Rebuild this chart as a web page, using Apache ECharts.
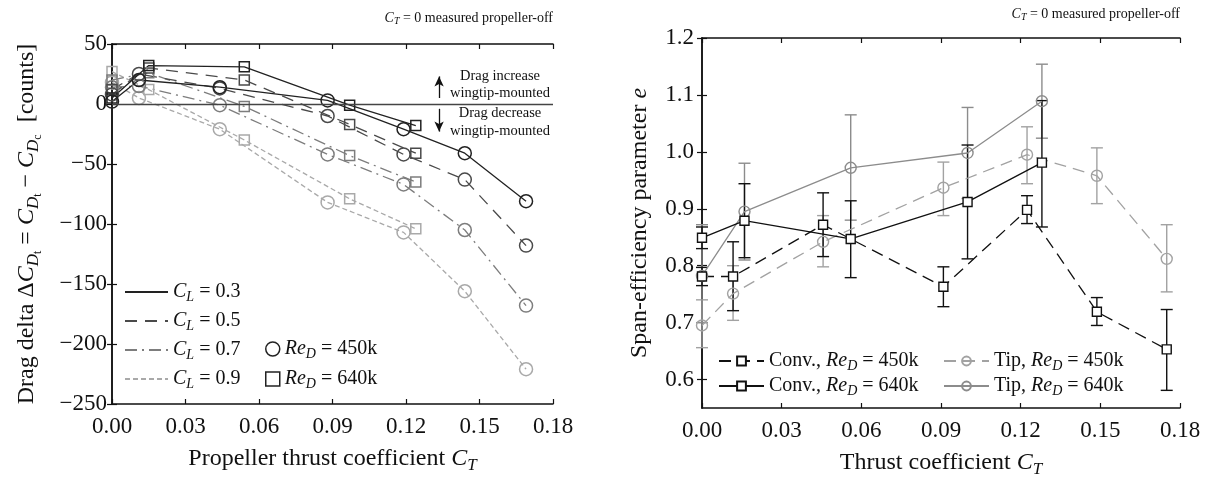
<!DOCTYPE html>
<html>
<head>
<meta charset="utf-8">
<script src="https://cdn.jsdelivr.net/npm/echarts@6.0.0/dist/echarts.min.js"></script>
<style>
  html, body { margin: 0; padding: 0; background: #fff; }
  #main { width: 1230px; height: 477px; }
</style>
</head>
<body>
<div id="main"></div>
<script>
// ---- left panel: drag delta [counts] vs C_T ----
var ctCircL = [0, 0.011, 0.044, 0.088, 0.119, 0.144, 0.169];   // Re_D = 450k
var ctSqL = [0, 0.015, 0.054, 0.097, 0.124];                    // Re_D = 640k
var cl03Circ = [2, 20, 14, 3, -21, -41, -81];
var cl03Sq = [5, 32, 31, -1, -18];
var cl05Circ = [8, 25, 13, -10, -42, -63, -118];
var cl05Sq = [12, 30, 20, -17, -41];
var cl07Circ = [14, 15, -1, -42, -67, -105, -168];
var cl07Sq = [20, 26, -2, -43, -65];
var cl09Circ = [18, 5, -21, -82, -107, -156, -221];
var cl09Sq = [27, 12, -30, -79, -104];

// ---- right panel: span efficiency e vs C_T ----
var ct450 = [0, 0.0117, 0.0456, 0.0909, 0.1224, 0.1487, 0.175];
var ct640 = [0, 0.016, 0.056, 0.100, 0.128];
var conv450 = [0.781, 0.781, 0.872, 0.763, 0.898, 0.719, 0.653];
var conv450Lo = [0.765, 0.721, 0.816, 0.728, 0.874, 0.695, 0.581];
var conv450Hi = [0.797, 0.842, 0.928, 0.798, 0.923, 0.744, 0.723];
var conv640 = [0.849, 0.879, 0.847, 0.912, 0.981];
var conv640Lo = [0.830, 0.814, 0.779, 0.812, 0.868];
var conv640Hi = [0.868, 0.944, 0.914, 1.012, 1.090];
var tip450 = [0.695, 0.751, 0.842, 0.937, 0.995, 0.958, 0.812];
var tip450Lo = [0.656, 0.704, 0.798, 0.888, 0.944, 0.909, 0.754];
var tip450Hi = [0.740, 0.800, 0.888, 0.982, 1.044, 1.007, 0.872];
var tip640 = [0.782, 0.895, 0.972, 0.998, 1.089];
var tip640Lo = [0.700, 0.810, 0.880, 0.918, 1.024];
var tip640Hi = [0.872, 0.980, 1.065, 1.078, 1.154];

var eTicks = [0.6, 0.7, 0.8, 0.9, 1.0, 1.1, 1.2];

var FONT = 'Liberation Serif';
var INK = '#111';

function zip(xs, ys) {
  return xs.map(function (x, i) { return [x, ys[i]]; });
}
function zip3(xs, lo, hi) {
  return xs.map(function (x, i) { return [x, lo[i], hi[i]]; });
}

var rich = {
  n: { fontFamily: FONT, fontSize: 24, color: INK, lineHeight: 25 },
  i: { fontFamily: FONT, fontSize: 24, color: INK, fontStyle: 'italic', lineHeight: 25 },
  s: { fontFamily: FONT, fontSize: 17, color: INK, fontStyle: 'italic', lineHeight: 17, padding: [14, 0, 0, 0] },
  ss: { fontFamily: FONT, fontSize: 12, color: INK, lineHeight: 12, padding: [22, 0, 0, 0] }
};
var legRich = {
  n: { fontFamily: FONT, fontSize: 20, color: INK, lineHeight: 20 },
  i: { fontFamily: FONT, fontSize: 20, color: INK, fontStyle: 'italic', lineHeight: 20 },
  s: { fontFamily: FONT, fontSize: 14, color: INK, fontStyle: 'italic', lineHeight: 14, padding: [10, 0, 0, 0] }
};
var noteRich = {
  n: { fontFamily: FONT, fontSize: 14, fill: INK },
  i: { fontFamily: FONT, fontSize: 14, fill: INK, fontStyle: 'italic' },
  s: { fontFamily: FONT, fontSize: 10, fill: INK, fontStyle: 'italic', padding: [7, 0, 0, 0] }
};
var noteFont = '14.5px "Liberation Serif"';

function dragLine(name, xs, ys, sym, size, color, dash) {
  return {
    name: name, type: 'line', xAxisIndex: 0, yAxisIndex: 0,
    data: zip(xs, ys), symbol: sym, symbolSize: size,
    lineStyle: { color: color, width: 1.3, type: dash },
    itemStyle: { color: 'transparent', borderColor: color, borderWidth: 1.5 },
    emphasis: { disabled: true }, z: 3
  };
}
function effLine(name, xs, ys, sym, size, color, dash, fill) {
  return {
    name: name, type: 'line', xAxisIndex: 2, yAxisIndex: 2,
    data: zip(xs, ys), symbol: sym, symbolSize: size,
    lineStyle: { color: color, width: 1.3, type: dash },
    itemStyle: { color: fill, borderColor: color, borderWidth: 1.4 },
    emphasis: { disabled: true }, z: 4
  };
}
function errBars(xs, lo, hi, color) {
  return {
    type: 'custom', xAxisIndex: 2, yAxisIndex: 2, z: 2, silent: true,
    data: zip3(xs, lo, hi),
    encode: { x: 0, y: [1, 2] },
    renderItem: function (params, api) {
      var a = api.coord([api.value(0), api.value(1)]);
      var b = api.coord([api.value(0), api.value(2)]);
      var w = 6;
      var st = { stroke: color, lineWidth: 1.4 };
      return {
        type: 'group',
        children: [
          { type: 'line', shape: { x1: a[0], y1: a[1], x2: b[0], y2: b[1] }, style: st },
          { type: 'line', shape: { x1: a[0] - w, y1: a[1], x2: a[0] + w, y2: a[1] }, style: st },
          { type: 'line', shape: { x1: b[0] - w, y1: b[1], x2: b[0] + w, y2: b[1] }, style: st }
        ]
      };
    }
  };
}
function legendDummy(name, color, dash, sym) {
  return {
    name: name, type: 'line', xAxisIndex: 0, yAxisIndex: 0, data: [],
    symbol: sym || 'none', symbolSize: 12,
    lineStyle: { color: color, width: 1.3, type: dash },
    itemStyle: { color: 'transparent', borderColor: color, borderWidth: 1.5 }
  };
}

function frameX(grid, pos, name, gap) {
  return {
    type: 'value', gridIndex: grid, position: pos, min: 0, max: 0.18, interval: 0.03,
    axisLine: { show: true, onZero: false, lineStyle: { color: INK, width: 1.5 } },
    axisTick: { show: true, inside: true, length: 5, lineStyle: { color: INK, width: 1.2 } },
    axisLabel: {
      show: pos === 'bottom', margin: 11, showMinLabel: true, showMaxLabel: true,
      fontFamily: FONT, fontSize: 23, color: INK,
      formatter: function (v) { return v.toFixed(2); }
    },
    splitLine: { show: false },
    name: name || '', nameLocation: 'middle', nameGap: gap || 0,
    nameTextStyle: { rich: rich }
  };
}

var C = '#222', C5 = '#4a4a4a', C7 = '#7d7d7d', C9 = '#a9a9a9';
var CONV = '#111', TIP450 = '#a2a2a2', TIP640 = '#8c8c8c';
var noSym = { color: 'transparent', borderColor: 'transparent', borderWidth: 0 };

var option = {
  animation: false,
  backgroundColor: '#fff',
  grid: [
    { left: 112, top: 44, width: 441, height: 360, outerBoundsMode: 'none', containLabel: false },
    { left: 702, top: 38, width: 478, height: 370, outerBoundsMode: 'none', containLabel: false }
  ],
  xAxis: [
    frameX(0, 'bottom', '{n|Propeller thrust coefficient }{i|C}{s|T}', 41),
    frameX(0, 'top'),
    frameX(1, 'bottom', '{n|Thrust coefficient }{i|C}{s|T}', 40),
    frameX(1, 'top')
  ],
  yAxis: [
    {
      type: 'value', gridIndex: 0, position: 'left', min: -250, max: 50, interval: 50,
      axisLine: { show: true, lineStyle: { color: INK, width: 1.5 } },
      axisTick: { inside: true, length: 5, lineStyle: { color: INK, width: 1.2 } },
      axisLabel: {
        margin: 5, fontFamily: FONT, fontSize: 23, color: INK, showMinLabel: true, showMaxLabel: true,
        formatter: function (v) { return String(v).replace('-', '\u2212'); }
      },
      splitLine: { show: false },
      name: '{n|Drag delta \u0394}{i|C}{s|D}{ss|t}{n| = }{i|C}{s|D}{ss|t}{n| \u2212 }{i|C}{s|D}{ss|c}{n|  [counts]}',
      nameLocation: 'middle', nameGap: 73, nameTextStyle: { rich: rich }
    },
    {
      type: 'value', gridIndex: 0, position: 'right', min: -250, max: 50, interval: 50,
      axisLine: { show: true, lineStyle: { color: INK, width: 1.5 } },
      axisTick: { inside: true, length: 5, lineStyle: { color: INK, width: 1.2 } },
      axisLabel: { show: false }, splitLine: { show: false }
    },
    {
      type: 'value', gridIndex: 1, position: 'left', min: 0.55, max: 1.2,
      axisLine: { show: true, lineStyle: { color: INK, width: 1.5 } },
      axisTick: { inside: true, length: 5, customValues: eTicks, lineStyle: { color: INK, width: 1.2 } },
      axisLabel: {
        margin: 8, fontFamily: FONT, fontSize: 23, color: INK, customValues: eTicks,
        formatter: function (v) { return v.toFixed(1); }
      },
      splitLine: { show: false },
      name: '{n|Span-efficiency parameter }{i|e}',
      nameLocation: 'middle', nameGap: 50, nameTextStyle: { rich: rich }
    },
    {
      type: 'value', gridIndex: 1, position: 'right', min: 0.55, max: 1.2,
      axisLine: { show: true, lineStyle: { color: INK, width: 1.5 } },
      axisTick: { inside: true, length: 5, customValues: eTicks, lineStyle: { color: INK, width: 1.2 } },
      axisLabel: { show: false }, splitLine: { show: false }
    }
  ],
  legend: [
    {
      left: 124, top: 280, orient: 'vertical', itemWidth: 43, itemHeight: 12, itemGap: 5,
      padding: 0, selectedMode: false,
      data: [
        { name: 'CL03', itemStyle: noSym },
        { name: 'CL05', itemStyle: noSym },
        { name: 'CL07', itemStyle: noSym },
        { name: 'CL09', itemStyle: noSym }
      ],
      formatter: function (n) { return '{i|C}{s|L}{n| = 0.' + n.charAt(3) + '}'; },
      textStyle: { rich: legRich }
    },
    {
      left: 265, top: 337, orient: 'vertical', itemWidth: 14, itemHeight: 14, itemGap: 6,
      padding: 0, selectedMode: false,
      data: [
        { name: 'Re450', icon: 'circle', itemStyle: { color: 'transparent', borderColor: C, borderWidth: 1.5 } },
        { name: 'Re640', icon: 'rect', itemStyle: { color: 'transparent', borderColor: C, borderWidth: 1.5 } }
      ],
      formatter: function (n) { return '{i|Re}{s|D}{n| = ' + n.slice(2) + 'k}'; },
      textStyle: { rich: legRich }
    },
    {
      left: 718, top: 349, orient: 'vertical', itemWidth: 45, itemHeight: 11, itemGap: 1,
      padding: 0, selectedMode: false,
      data: ['conv450', 'conv640'],
      formatter: function (n) { return '{n|Conv., }{i|Re}{s|D}{n| = ' + n.slice(4) + 'k}'; },
      textStyle: { rich: legRich }
    },
    {
      left: 943, top: 349, orient: 'vertical', itemWidth: 45, itemHeight: 11, itemGap: 1,
      padding: 0, selectedMode: false,
      data: ['tip450', 'tip640'],
      formatter: function (n) { return '{n|Tip, }{i|Re}{s|D}{n| = ' + n.slice(3) + 'k}'; },
      textStyle: { rich: legRich }
    }
  ],
  graphic: [
    { type: 'text', right: 1230 - 553, top: 11, style: { text: '{i|C}{s|T}{n| = 0 measured propeller-off}', rich: noteRich } },
    { type: 'text', right: 1230 - 1180, top: 7, style: { text: '{i|C}{s|T}{n| = 0 measured propeller-off}', rich: noteRich } },
    { type: 'text', x: 500, y: 76, style: { text: 'Drag increase', font: noteFont, fill: INK, align: 'center', verticalAlign: 'middle' } },
    { type: 'text', x: 500, y: 93, style: { text: 'wingtip-mounted', font: noteFont, fill: INK, align: 'center', verticalAlign: 'middle' } },
    { type: 'text', x: 500, y: 113, style: { text: 'Drag decrease', font: noteFont, fill: INK, align: 'center', verticalAlign: 'middle' } },
    { type: 'text', x: 500, y: 131, style: { text: 'wingtip-mounted', font: noteFont, fill: INK, align: 'center', verticalAlign: 'middle' } }
  ],
  series: [
    // zero reference line and arrows
    {
      type: 'line', xAxisIndex: 0, yAxisIndex: 0, data: [], silent: true,
      markLine: {
        silent: true, animation: false, symbol: ['none', 'none'], label: { show: false },
        lineStyle: { color: '#444', width: 1.3, type: 'solid' },
        data: [
          { yAxis: 0 },
          [{ coord: [0.1335, 5], symbol: 'none' }, { coord: [0.1335, 23], symbol: 'arrow', symbolSize: [7, 10], lineStyle: { color: INK } }],
          [{ coord: [0.1335, -4], symbol: 'none' }, { coord: [0.1335, -23], symbol: 'arrow', symbolSize: [7, 10], lineStyle: { color: INK } }]
        ]
      }
    },
    dragLine('c09', ctCircL, cl09Circ, 'circle', 13, C9, [5, 3]),
    dragLine('s09', ctSqL, cl09Sq, 'rect', 10, C9, [5, 3]),
    dragLine('c07', ctCircL, cl07Circ, 'circle', 13, C7, [12, 5, 2, 5]),
    dragLine('s07', ctSqL, cl07Sq, 'rect', 10, C7, [12, 5, 2, 5]),
    dragLine('c05', ctCircL, cl05Circ, 'circle', 13, C5, [12, 8]),
    dragLine('s05', ctSqL, cl05Sq, 'rect', 10, C5, [12, 8]),
    dragLine('c03', ctCircL, cl03Circ, 'circle', 13, C, 'solid'),
    dragLine('s03', ctSqL, cl03Sq, 'rect', 10, C, 'solid'),
    legendDummy('CL03', C, 'solid'),
    legendDummy('CL05', C5, [12, 8]),
    legendDummy('CL07', C7, [12, 5, 2, 5]),
    legendDummy('CL09', C9, [5, 3]),
    legendDummy('Re450', C, 'solid', 'circle'),
    legendDummy('Re640', C, 'solid', 'rect'),

    errBars(ct450, tip450Lo, tip450Hi, TIP450),
    errBars(ct640, tip640Lo, tip640Hi, TIP640),
    errBars(ct450, conv450Lo, conv450Hi, CONV),
    errBars(ct640, conv640Lo, conv640Hi, CONV),
    effLine('tip450', ct450, tip450, 'circle', 11, TIP450, [12, 7], 'transparent'),
    effLine('tip640', ct640, tip640, 'circle', 11, TIP640, 'solid', 'transparent'),
    effLine('conv450', ct450, conv450, 'rect', 9, CONV, [12, 7], '#fff'),
    effLine('conv640', ct640, conv640, 'rect', 9, CONV, 'solid', '#fff')
  ]
};

var chart = echarts.init(document.getElementById('main'));
chart.setOption(option);
</script>
</body>
</html>
